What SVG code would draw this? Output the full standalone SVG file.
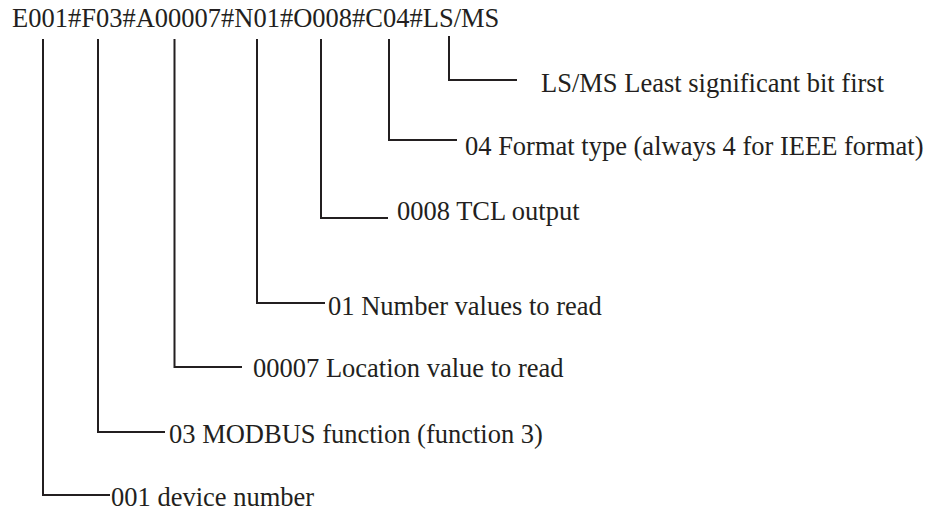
<svg xmlns="http://www.w3.org/2000/svg" width="928" height="512" viewBox="0 0 928 512">
<style>
.t{font-family:"Liberation Serif","Times New Roman",serif;font-size:26.5px;fill:#231f20}
.c{fill:none;stroke:#231f20;stroke-width:2;stroke-linejoin:miter}
</style>
<rect width="928" height="512" fill="#fff"/>
<g id="header"><text class="t" x="12" y="27">E001#F03#A00007#N01#O008#C04#LS/MS</text></g>
<g id="connectors">
<path class="c" d="M43 39 V495 H110"/>
<path class="c" d="M98 39 V432 H165"/>
<path class="c" d="M174.5 39 V367 H242"/>
<path class="c" d="M257 39 V303 H325"/>
<path class="c" d="M321 39 V218 H388"/>
<path class="c" d="M389 39 V140 H457"/>
<path class="c" d="M449 36 V80 H517"/>
</g>
<g id="lsms"><text class="t" x="541" y="92">LS/MS Least significant bit first</text></g>
<g id="format"><text class="t" x="465" y="155">04 Format type (always 4 for IEEE format)</text></g>
<g id="tcl"><text class="t" x="397" y="220">0008 TCL output</text></g>
<g id="number"><text class="t" x="328" y="315">01 Number values to read</text></g>
<g id="location"><text class="t" x="253" y="377">00007 Location value to read</text></g>
<g id="function"><text class="t" x="169" y="443">03 MODBUS function (function 3)</text></g>
<g id="device"><text class="t" x="111" y="506">001 device number</text></g>
</svg>
